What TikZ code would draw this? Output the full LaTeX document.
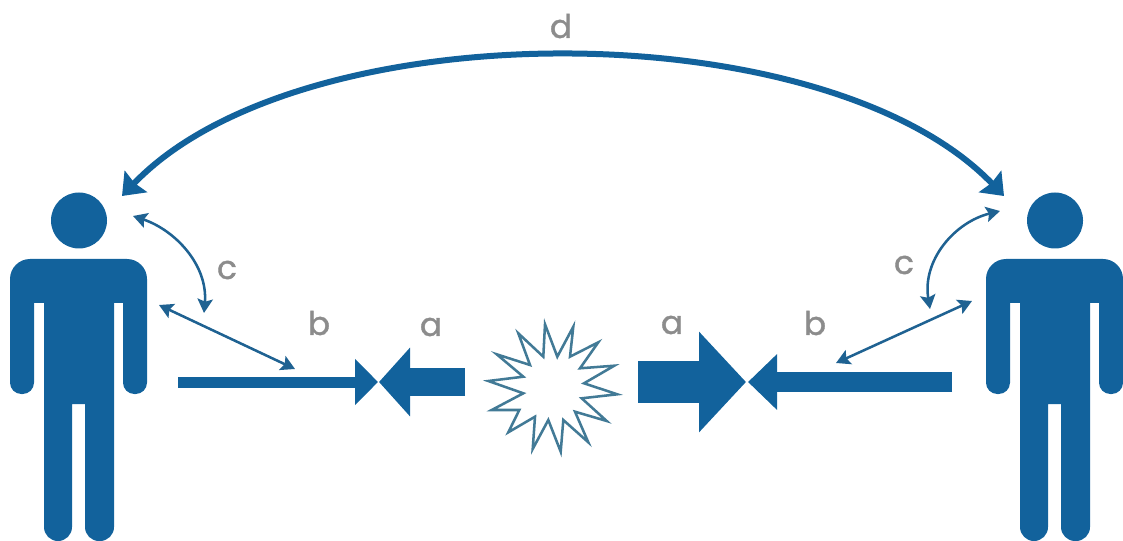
\documentclass[tikz,border=0pt]{standalone}
\usepackage{fontspec}
\setmainfont{Poppins}
\newfontfamily\labfont[FakeBold=1.3]{Poppins}
\usetikzlibrary{arrows.meta}
\definecolor{bluefig}{HTML}{12629C}
\definecolor{bluethin}{HTML}{1F6292}
\definecolor{starline}{HTML}{427A96}
\definecolor{lab}{HTML}{8C8C8C}
\tikzset{
  figure/.style={fill=bluefig,draw=none},
  letter/.style={text=lab,font=\labfont\fontsize{24.5}{26}\selectfont,inner sep=0pt,anchor=center},
  thinlink/.style={draw=bluethin,line width=1.9pt,{Stealth[length=10.5pt,width=11.5pt,inset=2pt]}-{Stealth[length=10.5pt,width=11.5pt,inset=2pt]}},
  biglink/.style={draw=bluefig,line width=4.5pt,{Stealth[length=15pt,width=23pt,inset=1.5pt]}-{Stealth[length=15pt,width=23pt,inset=1.5pt]}},
  block/.style n args={3}{draw=bluefig,line width=#1*0.75pt,-{Triangle[length=#2*0.75pt,width=#3*0.75pt]},fill=none},
}
\newcommand{\personshape}[1]{%
  \begin{scope}[xshift=#1*0.75pt]
    \fill[figure] (79,220.5) circle[radius=21pt];
    \fill[figure,rounded corners=15pt] (79,259) -- (147,259)
      [rounded corners=8.5pt] -- (147,394) -- (123,394)
      [sharp corners] -- (123,303) -- (114,303)
      [rounded corners=10.5pt] -- (114,541) -- (85,541)
      [sharp corners] -- (85,404) -- (72,404)
      [rounded corners=10.5pt] -- (72,541) -- (44,541)
      [sharp corners] -- (44,303) -- (34,303)
      [rounded corners=8.5pt] -- (34,394) -- (10,394)
      [rounded corners=15pt] -- (10,259) -- cycle;
  \end{scope}}
\begin{document}
\begin{tikzpicture}[x=0.75pt,y=-0.75pt]
\useasboundingbox (0,0) rectangle (1123,541);
\personshape{0}
\personshape{976}
% named ends
\coordinate (dL) at (122,196);
\coordinate (dR) at (1004,196);
\coordinate (cLa) at (133,216);
\coordinate (cLb) at (204,313);
\coordinate (bLa) at (159,305);
\coordinate (bLb) at (295,369);
\coordinate (cRa) at (1000,211);
\coordinate (cRb) at (930,309);
\coordinate (bRa) at (972,301);
\coordinate (bRb) at (836,363);
\coordinate (barL) at (178,382);
\coordinate (tipL) at (378,382);
\coordinate (barA) at (465,382);
\coordinate (tipA) at (379,382);
\coordinate (barB) at (638,382);
\coordinate (tipB) at (746,382);
\coordinate (barR) at (952,382);
\coordinate (tipR) at (748,382);
% curved and thin double arrows
\draw[biglink] (dL) .. controls (300,10) and (825,10) .. (dR);
\draw[thinlink] (cLa) .. controls (175,230) and (208,265) .. (cLb);
\draw[thinlink] (bLa) -- (bLb);
\draw[thinlink] (cRa) .. controls (955,222) and (922,260) .. (cRb);
\draw[thinlink] (bRa) -- (bRb);
% block arrows
\draw[block={11}{23}{45}] (barL) -- (tipL);
\draw[block={28}{31}{67}] (barA) -- (tipA);
\draw[block={42}{47}{98}] (barB) -- (tipB);
\draw[block={20}{29}{54}] (barR) -- (tipR);
% star burst
\draw[draw=starline,line width=1.9pt,fill=white,line join=miter,miter limit=25]
  (545,324.3) -- (557.3,356.7) -- (573.3,326.7) -- (570,356.7) -- (598.3,342.3) -- (580,368.3)
  -- (614.3,365.7) -- (584,383.3) -- (617.3,394.3) -- (581.7,398.3) -- (606.7,421) -- (575,411.7)
  -- (588.3,442.3) -- (563.3,420) -- (560.7,451.7) -- (548.3,420) -- (532.7,449) -- (535,416.7)
  -- (508.3,432.3) -- (519.3,410) -- (491.7,410) -- (523.3,393.3) -- (488.3,381) -- (523.3,376.7)
  -- (496.7,354.3) -- (530,365) -- (518.3,333.3) -- (543.3,356.7) -- cycle;
% labels
\node[letter] (ld) at (561,26) {d};
\node[letter] (la1) at (431,327) {a};
\node[letter] (la2) at (672,325) {a};
\node[letter] (lb1) at (319,323) {b};
\node[letter] (lb2) at (815,323) {b};
\node[letter] (lc1) at (227,270) {c};
\node[letter] (lc2) at (904,265) {c};
\end{tikzpicture}
\end{document}
